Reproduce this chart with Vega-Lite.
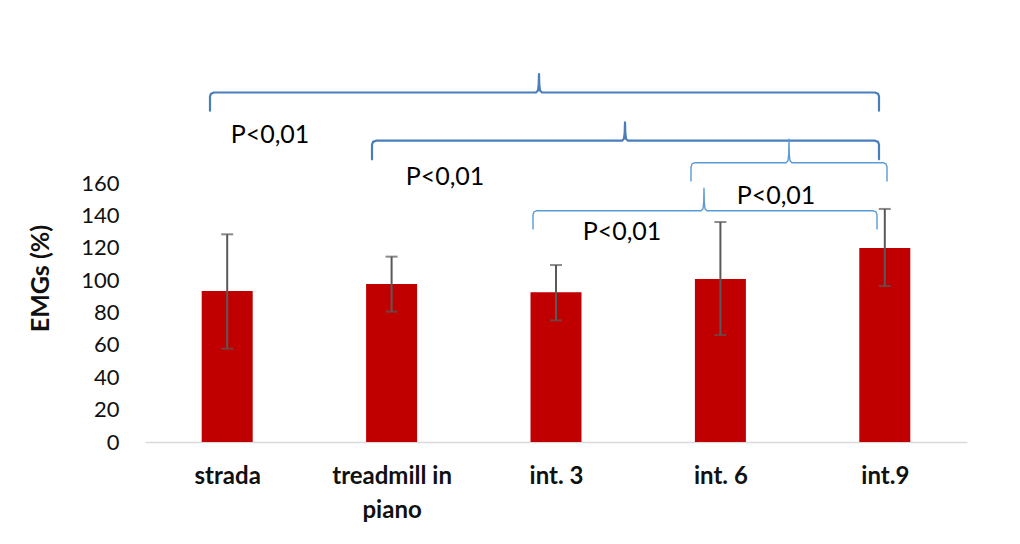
{
  "$schema": "https://vega.github.io/schema/vega-lite/v6.json",
  "autosize": {"type": "none"},
  "width": 822,
  "height": 372,
  "padding": {"left": 145, "top": 70, "right": 53, "bottom": 102},
  "background": "white",
  "config": {"view": {"stroke": null}, "font": "Lato"},
  "datasets": {
    "bars": [
      {"i": 0, "name": "strada", "v": 93.4, "lo": 57.7, "hi": 128.4},
      {"i": 1, "name": "treadmill in piano", "v": 97.7, "lo": 80.6, "hi": 114.6},
      {"i": 2, "name": "int. 3", "v": 92.6, "lo": 75.2, "hi": 109.4},
      {"i": 3, "name": "int. 6", "v": 100.8, "lo": 66.2, "hi": 136.0},
      {"i": 4, "name": "int.9", "v": 119.9, "lo": 96.5, "hi": 144.1}
    ],
    "braces": [
      {"b": 1, "g": "a", "o": 1, "x": -0.1046, "y": 204.84},
      {"b": 1, "g": "a", "o": 2, "x": -0.1046, "y": 213.62},
      {"b": 1, "g": "a", "o": 3, "x": -0.0985, "y": 215.35},
      {"b": 1, "g": "a", "o": 4, "x": -0.0803, "y": 216.09},
      {"b": 1, "g": "a", "o": 5, "x": 1.8783, "y": 216.09},
      {"b": 1, "g": "a", "o": 6, "x": 1.8905, "y": 217.33},
      {"b": 1, "g": "a", "o": 7, "x": 1.8947, "y": 221.04},
      {"b": 1, "g": "a", "o": 8, "x": 1.8966, "y": 227.53},
      {"b": 1, "g": "a", "o": 9, "x": 1.8984, "y": 221.04},
      {"b": 1, "g": "a", "o": 10, "x": 1.9027, "y": 217.33},
      {"b": 1, "g": "a", "o": 11, "x": 1.9148, "y": 216.09},
      {"b": 1, "g": "a", "o": 12, "x": 3.9404, "y": 216.09},
      {"b": 1, "g": "a", "o": 13, "x": 3.9586, "y": 215.35},
      {"b": 1, "g": "a", "o": 14, "x": 3.9647, "y": 213.62},
      {"b": 1, "g": "a", "o": 15, "x": 3.9647, "y": 204.84},
      {"b": 2, "g": "a", "o": 1, "x": 0.8808, "y": 174.79},
      {"b": 2, "g": "a", "o": 2, "x": 0.8808, "y": 183.81},
      {"b": 2, "g": "a", "o": 3, "x": 0.8869, "y": 185.55},
      {"b": 2, "g": "a", "o": 4, "x": 0.9051, "y": 186.29},
      {"b": 2, "g": "a", "o": 5, "x": 2.4015, "y": 186.29},
      {"b": 2, "g": "a", "o": 6, "x": 2.4136, "y": 187.52},
      {"b": 2, "g": "a", "o": 7, "x": 2.4179, "y": 191.23},
      {"b": 2, "g": "a", "o": 8, "x": 2.4197, "y": 197.66},
      {"b": 2, "g": "a", "o": 9, "x": 2.4215, "y": 191.23},
      {"b": 2, "g": "a", "o": 10, "x": 2.4258, "y": 187.52},
      {"b": 2, "g": "a", "o": 11, "x": 2.4380, "y": 186.29},
      {"b": 2, "g": "a", "o": 12, "x": 3.9404, "y": 186.29},
      {"b": 2, "g": "a", "o": 13, "x": 3.9586, "y": 185.55},
      {"b": 2, "g": "a", "o": 14, "x": 3.9647, "y": 183.81},
      {"b": 2, "g": "a", "o": 15, "x": 3.9647, "y": 174.79},
      {"b": 3, "g": "b", "o": 1, "x": 2.8212, "y": 161.37},
      {"b": 3, "g": "b", "o": 2, "x": 2.8212, "y": 170.21},
      {"b": 3, "g": "b", "o": 3, "x": 2.8273, "y": 171.94},
      {"b": 3, "g": "b", "o": 4, "x": 2.8455, "y": 172.69},
      {"b": 3, "g": "b", "o": 5, "x": 3.3990, "y": 172.69},
      {"b": 3, "g": "b", "o": 6, "x": 3.4112, "y": 173.92},
      {"b": 3, "g": "b", "o": 7, "x": 3.4155, "y": 177.63},
      {"b": 3, "g": "b", "o": 8, "x": 3.4173, "y": 187.15},
      {"b": 3, "g": "b", "o": 9, "x": 3.4191, "y": 177.63},
      {"b": 3, "g": "b", "o": 10, "x": 3.4234, "y": 173.92},
      {"b": 3, "g": "b", "o": 11, "x": 3.4355, "y": 172.69},
      {"b": 3, "g": "b", "o": 12, "x": 3.9891, "y": 172.69},
      {"b": 3, "g": "b", "o": 13, "x": 4.0073, "y": 171.94},
      {"b": 3, "g": "b", "o": 14, "x": 4.0134, "y": 170.21},
      {"b": 3, "g": "b", "o": 15, "x": 4.0134, "y": 161.37},
      {"b": 4, "g": "b", "o": 1, "x": 1.8601, "y": 131.69},
      {"b": 4, "g": "b", "o": 2, "x": 1.8601, "y": 140.53},
      {"b": 4, "g": "b", "o": 3, "x": 1.8662, "y": 142.27},
      {"b": 4, "g": "b", "o": 4, "x": 1.8844, "y": 143.01},
      {"b": 4, "g": "b", "o": 5, "x": 2.8820, "y": 143.01},
      {"b": 4, "g": "b", "o": 6, "x": 2.8942, "y": 144.25},
      {"b": 4, "g": "b", "o": 7, "x": 2.8984, "y": 147.95},
      {"b": 4, "g": "b", "o": 8, "x": 2.9002, "y": 156.86},
      {"b": 4, "g": "b", "o": 9, "x": 2.9021, "y": 147.95},
      {"b": 4, "g": "b", "o": 10, "x": 2.9063, "y": 144.25},
      {"b": 4, "g": "b", "o": 11, "x": 2.9185, "y": 143.01},
      {"b": 4, "g": "b", "o": 12, "x": 3.9282, "y": 143.01},
      {"b": 4, "g": "b", "o": 13, "x": 3.9465, "y": 142.27},
      {"b": 4, "g": "b", "o": 14, "x": 3.9526, "y": 140.53},
      {"b": 4, "g": "b", "o": 15, "x": 3.9526, "y": 131.69}
    ],
    "labels": [
      {"x": 0.2603, "y": 189.81, "t": "P<0,01"},
      {"x": 1.3248, "y": 163.84, "t": "P<0,01"},
      {"x": 2.4015, "y": 129.84, "t": "P<0,01"},
      {"x": 3.3382, "y": 152.10, "t": "P<0,01"}
    ]
  },
  "layer": [
    {
      "data": {"name": "bars"},
      "mark": {"type": "bar", "width": 51, "color": "#c00000"},
      "encoding": {
        "x": {
          "field": "i", "type": "quantitative",
          "scale": {"domain": [-0.5, 4.5], "nice": false, "zero": false, "padding": 0},
          "axis": {
            "title": null, "values": [0, 1, 2, 3, 4], "ticks": false, "tickSize": 0, "grid": false,
            "domainColor": "#d9d9d9", "domainWidth": 1.5,
            "labelExpr": "datum.value == 0 ? 'strada' : datum.value == 1 ? ['treadmill in', 'piano'] : datum.value == 2 ? 'int. 3' : datum.value == 3 ? 'int. 6' : 'int.9'",
            "labelFont": "Lato", "labelFontSize": 24, "labelFontWeight": "bold", "labelColor": "#111111",
            "labelPadding": 22, "labelLineHeight": 34, "labelFlush": false, "labelOverlap": false
          }
        },
        "y": {
          "field": "v", "type": "quantitative",
          "scale": {"domain": [0, 230], "nice": false},
          "axis": {
            "title": "EMGs (%)", "values": [0, 20, 40, 60, 80, 100, 120, 140, 160],
            "domain": false, "ticks": false, "tickSize": 0, "grid": false,
            "labelFont": "Lato", "labelFontSize": 22, "labelColor": "#111111", "labelPadding": 26,
            "titleFont": "Lato", "titleFontSize": 25, "titleFontWeight": "bold", "titleColor": "#111111",
            "titleX": -105, "titleY": 208, "titleAngle": -90, "titleAlign": "center", "titleBaseline": "middle"
          }
        }
      }
    },
    {
      "data": {"name": "bars"},
      "mark": {"type": "rule", "color": "#595959", "strokeWidth": 2},
      "encoding": {
        "x": {"field": "i", "type": "quantitative"},
        "y": {"field": "lo", "type": "quantitative"},
        "y2": {"field": "hi"}
      }
    },
    {
      "data": {"name": "bars"},
      "mark": {"type": "tick", "orient": "horizontal", "color": "#595959", "size": 12, "thickness": 2},
      "encoding": {
        "x": {"field": "i", "type": "quantitative"},
        "y": {"field": "lo", "type": "quantitative"}
      }
    },
    {
      "data": {"name": "bars"},
      "mark": {"type": "tick", "orient": "horizontal", "color": "#595959", "size": 12, "thickness": 2},
      "encoding": {
        "x": {"field": "i", "type": "quantitative"},
        "y": {"field": "hi", "type": "quantitative"}
      }
    },
    {
      "data": {"name": "braces"},
      "mark": {"type": "line", "strokeJoin": "round", "strokeCap": "round", "clip": false},
      "encoding": {
        "x": {"field": "x", "type": "quantitative"},
        "y": {"field": "y", "type": "quantitative"},
        "detail": {"field": "b", "type": "nominal"},
        "order": {"field": "o", "type": "quantitative"},
        "color": {"field": "g", "type": "nominal", "scale": {"domain": ["a", "b"], "range": ["#4a7ebb", "#5b9bd5"]}, "legend": null},
        "strokeWidth": {"field": "g", "type": "nominal", "scale": {"domain": ["a", "b"], "range": [2.2, 1.4]}, "legend": null}
      }
    },
    {
      "data": {"name": "labels"},
      "mark": {"type": "text", "font": "Lato", "fontSize": 25, "color": "#000000", "align": "center", "baseline": "middle"},
      "encoding": {
        "x": {"field": "x", "type": "quantitative"},
        "y": {"field": "y", "type": "quantitative"},
        "text": {"field": "t"}
      }
    }
  ]
}
